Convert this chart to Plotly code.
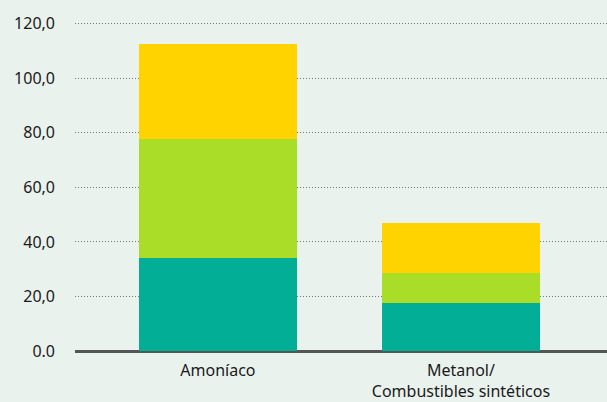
import plotly.graph_objects as go

# datos
categorias = ["Amoníaco", "Metanol/<br>Combustibles sintéticos"]
serie_1 = [34.2, 17.5]
serie_2 = [43.6, 11.2]
serie_3 = [34.6, 18.2]

tick_vals = [0, 20, 40, 60, 80, 100, 120]
tick_text = ["0.0", "20,0", "40,0", "60,0", "80,0", "100,0", "120,0"]

colores = ["#02AF96", "#AADD28", "#FFD300"]
fondo = "#EAF2EE"

fig = go.Figure()
for nombre, valores, color in zip(["Serie 1", "Serie 2", "Serie 3"],
                                  [serie_1, serie_2, serie_3], colores):
    fig.add_trace(go.Bar(
        x=[0, 1],
        y=valores,
        name=nombre,
        marker_color=color,
        marker_line_width=0,
        width=0.65,
    ))

fig.update_layout(
    barmode="stack",
    width=607,
    height=402,
    paper_bgcolor=fondo,
    plot_bgcolor=fondo,
    showlegend=False,
    margin=dict(l=75, r=0, t=21, b=46),
    font=dict(family="Noto Sans", size=16, color="#1a1a1a"),
    xaxis=dict(
        range=[-0.588, 1.601],
        tickvals=[0, 1],
        ticktext=categorias,
        showgrid=False,
        showline=False,
        zeroline=False,
        ticks="",
        ticklabelstandoff=8,
    ),
    yaxis=dict(
        range=[0, 121],
        tickvals=tick_vals,
        ticktext=tick_text,
        showgrid=True,
        gridcolor="#777777",
        gridwidth=1,
        griddash="1px,2px",
        zeroline=True,
        zerolinecolor="#555555",
        zerolinewidth=3,
        ticks="",
        ticklabelstandoff=19,
    ),
)

# quitar el margen del body para que el gráfico quede en (0, 0)
fig.write_html(
    "out.html",
    config={"displayModeBar": False},
    post_script="document.body.style.margin='0';document.body.style.background='%s';" % fondo,
)
